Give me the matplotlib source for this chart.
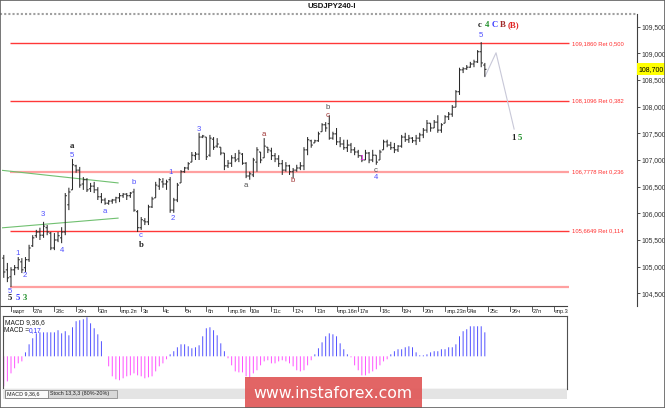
import matplotlib
matplotlib.use("Agg")
import matplotlib.pyplot as plt
from matplotlib.patches import Rectangle
from matplotlib.lines import Line2D
from matplotlib.collections import LineCollection

# ---------------- data ----------------
bar_high = [105.41,105.22,105.07,104.99,105.03,105.18,105.16,105.18,105.41,105.59,
            105.69,105.73,105.84,105.78,105.65,105.63,105.65,105.74,106.38,106.48,
            107.02,106.91,106.87,106.68,106.66,106.57,106.59,106.49,106.38,106.29,
            106.25,106.27,106.31,106.38,106.38,106.38,106.40,106.46,106.06,105.93,
            105.91,106.16,106.31,106.59,106.66,106.66,106.63,106.68,106.29,106.57,
            106.81,106.87,106.96,107.15,107.15,107.51,107.47,107.43,107.47,107.43,
            107.41,107.24,107.13,107.00,107.09,107.13,107.19,107.13,106.96,106.78,
            107.04,107.24,107.15,107.41,107.24,107.23,107.13,107.09,107.00,106.96,
            106.91,106.85,106.91,106.96,107.24,107.43,107.38,107.38,107.53,107.69,
            107.71,107.84,107.53,107.60,107.43,107.38,107.38,107.32,107.24,107.19,
            107.09,107.19,107.15,107.19,107.09,107.19,107.38,107.38,107.34,107.32,
            107.28,107.47,107.51,107.47,107.43,107.47,107.51,107.60,107.75,107.69,
            107.75,107.84,107.69,107.84,107.90,108.03,108.31,108.73,108.74,108.78,
            108.84,108.88,109.06,109.21,108.82]
bar_low = [105.09,104.79,104.71,104.62,104.84,104.94,104.88,104.90,105.09,105.37,
           105.54,105.50,105.54,105.59,105.31,105.31,105.46,105.44,105.59,106.06,
           106.44,106.76,106.48,106.44,106.40,106.40,106.38,106.25,106.19,106.16,
           106.16,106.18,106.19,106.21,106.29,106.25,106.29,106.03,105.65,105.69,
           105.78,105.78,106.10,106.29,106.44,106.48,106.44,106.01,106.01,106.21,
           106.57,106.76,106.81,106.96,107.00,107.00,107.41,107.00,107.06,107.19,
           107.23,107.09,106.81,106.85,106.87,106.96,106.96,106.91,106.66,106.63,
           106.68,106.78,106.94,107.04,107.13,107.00,106.96,106.87,106.72,106.78,
           106.72,106.66,106.78,106.81,106.81,107.09,107.23,107.32,107.34,107.53,
           107.53,107.38,107.38,107.28,107.24,107.19,107.15,107.13,107.09,107.04,
           106.96,107.00,106.94,106.96,106.91,107.00,107.19,107.24,107.19,107.13,
           107.15,107.23,107.34,107.32,107.32,107.28,107.34,107.41,107.51,107.53,
           107.60,107.51,107.51,107.69,107.75,107.81,107.99,108.22,108.63,108.69,
           108.73,108.74,108.82,108.74,108.56]
bar_open = [105.35,105.16,104.94,104.81,104.94,104.98,105.09,104.98,105.13,105.39,
            105.58,105.65,105.59,105.73,105.63,105.35,105.50,105.54,105.65,106.16,
            106.44,106.89,106.81,106.55,106.63,106.46,106.51,106.44,106.31,106.25,
            106.19,106.23,106.25,106.29,106.33,106.36,106.33,106.40,106.03,105.73,
            105.86,105.84,106.12,106.29,106.51,106.59,106.55,106.63,106.06,106.25,
            106.57,106.78,106.85,106.96,107.08,107.11,107.43,107.43,107.09,107.39,
            107.26,107.24,107.13,106.89,106.94,107.04,107.02,107.11,106.94,106.70,
            106.72,106.96,107.15,107.04,107.24,107.17,107.08,107.02,106.93,106.81,
            106.89,106.78,106.81,106.85,106.89,107.19,107.36,107.32,107.36,107.53,
            107.66,107.68,107.41,107.49,107.34,107.30,107.23,107.28,107.19,107.15,
            107.08,107.00,107.13,107.00,107.09,107.00,107.19,107.34,107.28,107.23,
            107.19,107.26,107.43,107.38,107.41,107.36,107.41,107.47,107.56,107.69,
            107.60,107.71,107.56,107.69,107.81,107.86,107.99,108.28,108.69,108.71,
            108.74,108.80,108.84,109.03,108.78]
bar_close = [105.16,104.90,104.79,104.94,104.98,105.13,104.94,105.13,105.35,105.54,
             105.65,105.59,105.76,105.65,105.35,105.50,105.58,105.65,106.33,106.40,
             106.91,106.81,106.53,106.63,106.44,106.51,106.44,106.31,106.25,106.19,
             106.23,106.25,106.29,106.33,106.36,106.33,106.38,106.06,105.73,105.88,
             105.84,106.12,106.27,106.53,106.63,106.55,106.59,106.06,106.25,106.53,
             106.78,106.85,106.93,107.09,107.11,107.43,107.45,107.06,107.41,107.24,
             107.30,107.13,106.89,106.94,107.04,107.00,107.13,106.94,106.70,106.74,
             107.00,107.19,107.00,107.26,107.19,107.08,107.02,106.93,106.81,106.89,
             106.78,106.81,106.85,106.89,107.19,107.38,107.28,107.36,107.49,107.66,
             107.60,107.41,107.49,107.34,107.30,107.23,107.28,107.19,107.15,107.08,
             107.00,107.13,107.00,107.09,106.96,107.15,107.34,107.28,107.23,107.19,
             107.26,107.43,107.38,107.41,107.36,107.41,107.47,107.56,107.69,107.60,
             107.71,107.56,107.66,107.81,107.86,107.99,108.28,108.69,108.71,108.74,
             108.80,108.84,109.03,108.82,108.70]
macd_hist = [-0.227,-0.213,-0.178,-0.121,-0.085,-0.050,-0.036,0.028,0.085,0.128,
             0.163,0.170,0.170,0.170,0.170,0.170,0.185,0.163,0.178,0.149,
             0.206,0.249,0.256,0.263,0.277,0.234,0.199,0.156,0.107,0.000,
             -0.071,-0.142,-0.163,-0.170,-0.156,-0.142,-0.135,-0.121,-0.135,-0.142,
             -0.156,-0.149,-0.142,-0.107,-0.071,-0.050,-0.021,0.014,0.036,0.064,
             0.085,0.085,0.071,0.057,0.064,0.078,0.142,0.199,0.206,0.185,
             0.149,0.092,0.036,-0.014,-0.064,-0.107,-0.114,-0.114,-0.142,-0.156,
             -0.121,-0.099,-0.064,-0.036,-0.028,-0.050,-0.050,-0.036,-0.028,-0.036,
             -0.050,-0.071,-0.099,-0.107,-0.099,-0.064,-0.028,0.014,0.057,0.099,
             0.142,0.163,0.156,0.142,0.092,0.050,0.014,-0.007,-0.064,-0.099,
             -0.135,-0.135,-0.121,-0.107,-0.092,-0.064,-0.036,-0.021,0.014,0.036,
             0.050,0.050,0.064,0.071,0.064,0.028,0.007,0.007,0.014,0.028,
             0.036,0.036,0.050,0.050,0.064,0.064,0.085,0.142,0.178,0.192,
             0.213,0.213,0.213,0.213,0.170]
price_ticks = [104.5, 105.0, 105.5, 106.0, 106.5, 107.0, 107.5, 108.0, 108.5, 109.0, 109.5]
day_labels = ["март", "27в", "28с", "29ч", "30п", "апр.2п", "3в", "4с", "5ч", "6п",
              "апр.9п", "10в", "11с", "12ч", "13п", "апр.16п", "17в", "18с", "19ч", "20п",
              "апр.23п", "24в", "25с", "26ч", "27п", "апр.30п"]
fib_levels = [109.1860, 108.1096, 106.7778, 105.6649]
fib_ratios = ["0,500", "0,382", "0,236", "0,114"]
support_level = 104.624
current_price = 108.700
macd_current = "0,17"
title = "USDJPY240-I"
upper_trend_x, upper_trend_y = [0.0, 32.6], [106.81, 106.57]
lower_trend_x, lower_trend_y = [0.0, 32.6], [105.725, 105.91]
forecast_x = [134.0, 137.1, 142.1]
forecast_y = [108.56, 109.01, 107.58]
# (text, bar index, price, style)
wave_labels = [
    ("a", 19.9, 107.26, "blk"), ("5", 19.9, 107.09, "blue"),
    ("b", 37.0, 106.57, "blue"), ("a", 29.0, 106.04, "blue"),
    ("c", 38.9, 105.58, "blue"), ("b", 38.9, 105.41, "blk"),
    ("3", 11.85, 105.97, "blue"), ("4", 17.1, 105.31, "blue"),
    ("1", 4.9, 105.24, "blue"), ("2", 6.9, 104.83, "blue"),
    ("5", 2.7, 104.54, "blue"),
    ("5", 2.7, 104.41, "blk"), ("5", 4.9, 104.41, "blueb"), ("3", 6.9, 104.41, "green"),
    ("1", 47.0, 106.76, "blue"), ("2", 47.8, 105.91, "blue"),
    ("3", 55.0, 107.58, "blue"),
    ("a", 72.95, 107.47, "maroon"), ("a", 68.0, 106.53, "gray"),
    ("b", 81.0, 106.61, "maroon"),
    ("b", 90.6, 107.975, "gray"), ("c", 90.6, 107.84, "maroon"),
    ("1", 99.8, 107.02, "magenta"),
    ("c", 103.9, 106.81, "gray"), ("4", 103.9, 106.68, "blue"),
    ("5", 132.9, 109.34, "blue"),
    ("c", 132.7, 109.53, "blk"), ("4", 134.6, 109.53, "green"),
    ("C", 136.8, 109.53, "blueb"), ("B", 139.0, 109.53, "maroonb"),
    ("(B)", 141.9, 109.53, "redb"),
    ("1", 141.8, 107.41, "blk"), ("5", 143.7, 107.41, "green"),
]

# ---------------- layout ----------------
W, H = 665, 408
BAR_PX = 3.617      # pixels per 4h bar
IDX3_PX = 11.0      # pixel column of bar index 3 (first day tick)
PPY = 53.33         # pixels per yen
P0 = 110.0          # price at pixel row 0

def idx_at(px):
    return (px - IDX3_PX) / BAR_PX + 3

def price_at(py):
    return P0 - py / PPY

def fx(px):
    return px / W

def fy(py):
    return 1 - py / H

SANS = "Liberation Sans"
SERIF = "Liberation Serif"

fig = plt.figure(figsize=(W / 100, H / 100), dpi=100)
fig.patch.set_facecolor("white")

# ---- main price axes ----
ax = fig.add_axes([fx(2), fy(306), fx(637) - fx(2), fy(14) - fy(306)])
ax.set_xlim(idx_at(2), idx_at(637))
ax.set_ylim(price_at(306), price_at(14))
for s in ["left", "top", "bottom"]:
    ax.spines[s].set_visible(False)
ax.spines["right"].set_color("#404040")
ax.spines["right"].set_linewidth(0.8)
ax.yaxis.tick_right()
ax.set_yticks(price_ticks)
ax.set_yticklabels([f"{p:.3f}".replace(".", ",") for p in price_ticks],
                   fontsize=4.9, family=SANS, color="#202020")
ax.tick_params(axis="y", direction="out", length=2.5, width=0.6, pad=0.8, colors="#303030")
ax.set_xticks([])

n = len(bar_high)
segs = []
for i in range(n):
    segs.append([(i, bar_low[i]), (i, bar_high[i])])
    segs.append([(i - 0.45, bar_open[i]), (i, bar_open[i])])
    segs.append([(i, bar_close[i]), (i + 0.45, bar_close[i])])
lc = LineCollection(segs, colors="#2a2a2a", linewidths=0.75, antialiased=True, zorder=4)
lc.set_snap(False)
ax.add_collection(lc)

# fib / support lines
x_a, x_b = idx_at(10), idx_at(569)
fib_styles = [("#ff3838", 1.0), ("#ff3838", 1.0), ("#ffa0a0", 1.6), ("#ff3838", 1.0)]
for lvl, (c, lw) in zip(fib_levels, fib_styles):
    ax.plot([x_a, x_b], [lvl, lvl], color=c, lw=lw, zorder=2, solid_capstyle="butt")
ax.plot([x_a, x_b], [support_level, support_level], color="#ffa0a0", lw=1.6, zorder=2,
        solid_capstyle="butt")
for lvl, r in zip(fib_levels, fib_ratios):
    ax.text(idx_at(572), lvl, f"{lvl:.4f}".replace(".", ",") + " Ret " + r,
            fontsize=4.2, family=SANS, color="#ff3030", va="center", ha="left")

# trend lines
ax.plot(upper_trend_x, upper_trend_y, color="#70c070", lw=0.8, zorder=3)
ax.plot(lower_trend_x, lower_trend_y, color="#70c070", lw=0.8, zorder=3)
# forecast path
ax.plot(forecast_x, forecast_y, color="#c8c8d8", lw=0.8, zorder=3)

styles = {
    "blue": dict(color="#4f4fff", family=SANS, fontsize=5.6),
    "blueb": dict(color="#3838ff", family=SERIF, fontsize=6.3, fontweight="bold"),
    "blk": dict(color="#202020", family=SERIF, fontsize=6.3, fontweight="bold"),
    "green": dict(color="#20902a", family=SERIF, fontsize=6.3, fontweight="bold"),
    "maroon": dict(color="#a03434", family=SANS, fontsize=5.6),
    "maroonb": dict(color="#a02828", family=SERIF, fontsize=6.3, fontweight="bold"),
    "redb": dict(color="#e02020", family=SERIF, fontsize=6.3, fontweight="bold"),
    "gray": dict(color="#505050", family=SANS, fontsize=5.6),
    "magenta": dict(color="#ff30ff", family=SANS, fontsize=5.6),
}
for t, xi, p, st in wave_labels:
    ax.text(xi, p, t, ha="center", va="center", zorder=6, **styles[st])

# current price tag
fig.patches.append(Rectangle((fx(637), fy(75)), fx(665) - fx(637), fy(63) - fy(75),
                             transform=fig.transFigure, facecolor="#ffff00",
                             edgecolor="none", zorder=5))
fig.text(fx(638.5), fy(69.3), f"{current_price:.3f}".replace(".", ","), fontsize=5.0,
         family=SANS, color="black", va="center", ha="left", zorder=6)

# ---- date strip ----
axd = fig.add_axes([fx(2), fy(316), fx(637) - fx(2), fy(306) - fy(316)])
axd.set_xlim(idx_at(2), idx_at(637))
axd.set_ylim(0, 1)
axd.axis("off")
axd.plot([idx_at(0), idx_at(567)], [1, 1], color="#404040", lw=0.8, clip_on=False)
x_end = idx_at(567)
for k, lab in enumerate(day_labels):
    xi = 3 + 6 * k
    if xi > x_end:
        break
    axd.plot([xi, xi], [1, 0.55], color="#404040", lw=0.6)
    if k == len(day_labels) - 1:
        lab = lab[:5]
    axd.text(xi + 0.35, 0.42, lab, fontsize=4.0, family=SANS, color="#202020",
             ha="left", va="center")

# ---- MACD panel ----
axm = fig.add_axes([fx(3), fy(389), fx(567) - fx(3), fy(316) - fy(389)])
axm.set_xlim(idx_at(3), idx_at(567))
axm.set_ylim(-0.232, 0.286)
axm.set_xticks([])
axm.set_yticks([])
for s in axm.spines.values():
    s.set_color("#505050")
    s.set_linewidth(0.8)
msegs, mcols = [], []
for i, v in enumerate(macd_hist):
    msegs.append([(i, 0), (i, v)])
    mcols.append("#5050ff" if v >= 0 else "#ff50ff")
mlc = LineCollection(msegs, colors=mcols, linewidths=0.7, antialiased=True)
mlc.set_snap(False)
axm.add_collection(mlc)
fig.text(fx(5), fy(322.5), "MACD 9,36,6", fontsize=4.8, family=SANS, color="#202020",
         va="center", ha="left")
fig.text(fx(4), fy(330.5), "MACD =", fontsize=4.8, family=SANS, color="#202020",
         va="center", ha="left")
fig.text(fx(29), fy(330.5), macd_current, fontsize=4.8, family=SANS, color="#3030ff",
         va="center", ha="left")

# tab bar
fig.patches.append(Rectangle((fx(3), fy(399)), fx(567) - fx(3), fy(389) - fy(399),
                             transform=fig.transFigure, facecolor="#e4e4e4",
                             edgecolor="none", zorder=1))
fig.patches.append(Rectangle((fx(5), fy(398)), fx(48) - fx(5), fy(390) - fy(398),
                             transform=fig.transFigure, facecolor="#fafafa",
                             edgecolor="#606060", linewidth=0.5, zorder=2))
fig.patches.append(Rectangle((fx(48), fy(398)), fx(117) - fx(48), fy(390) - fy(398),
                             transform=fig.transFigure, facecolor="#d8d8d8",
                             edgecolor="#808080", linewidth=0.5, zorder=2))
fig.text(fx(7), fy(394), "MACD 9,36,6", fontsize=3.9, family=SANS, color="#202020",
         va="center", ha="left", zorder=3)
fig.text(fx(50), fy(394), "Stoch 13,3,3 (80%-20%)", fontsize=3.9, family=SANS,
         color="#202020", va="center", ha="left", zorder=3)

# ---- title & top line ----
fig.text(fx(332), fy(6.5), title, fontsize=5.6, family=SANS, fontweight="bold",
         color="#101010", ha="center", va="center")
fig.add_artist(Line2D([fx(0), fx(637)], [fy(14), fy(14)], color="#a0a0a0", lw=1.5,
                      linestyle=(0, (1, 1)), transform=fig.transFigure))

# ---- watermark ----
fig.add_artist(Rectangle((fx(245), fy(408)), fx(422) - fx(245), fy(377) - fy(408),
                         transform=fig.transFigure, facecolor="#e05858", alpha=0.92,
                         edgecolor="none", zorder=20))
fig.text(fx(333), fy(393), "www.instaforex.com", fontsize=11.3, family="DejaVu Sans",
         color="white", ha="center", va="center", zorder=21)

# outer frame
fig.add_artist(Rectangle((0, 0), 1, 1, transform=fig.transFigure, facecolor="none",
                         edgecolor="#606060", linewidth=1.2, zorder=30))

fig.savefig("out.png", dpi=100, facecolor="white")
